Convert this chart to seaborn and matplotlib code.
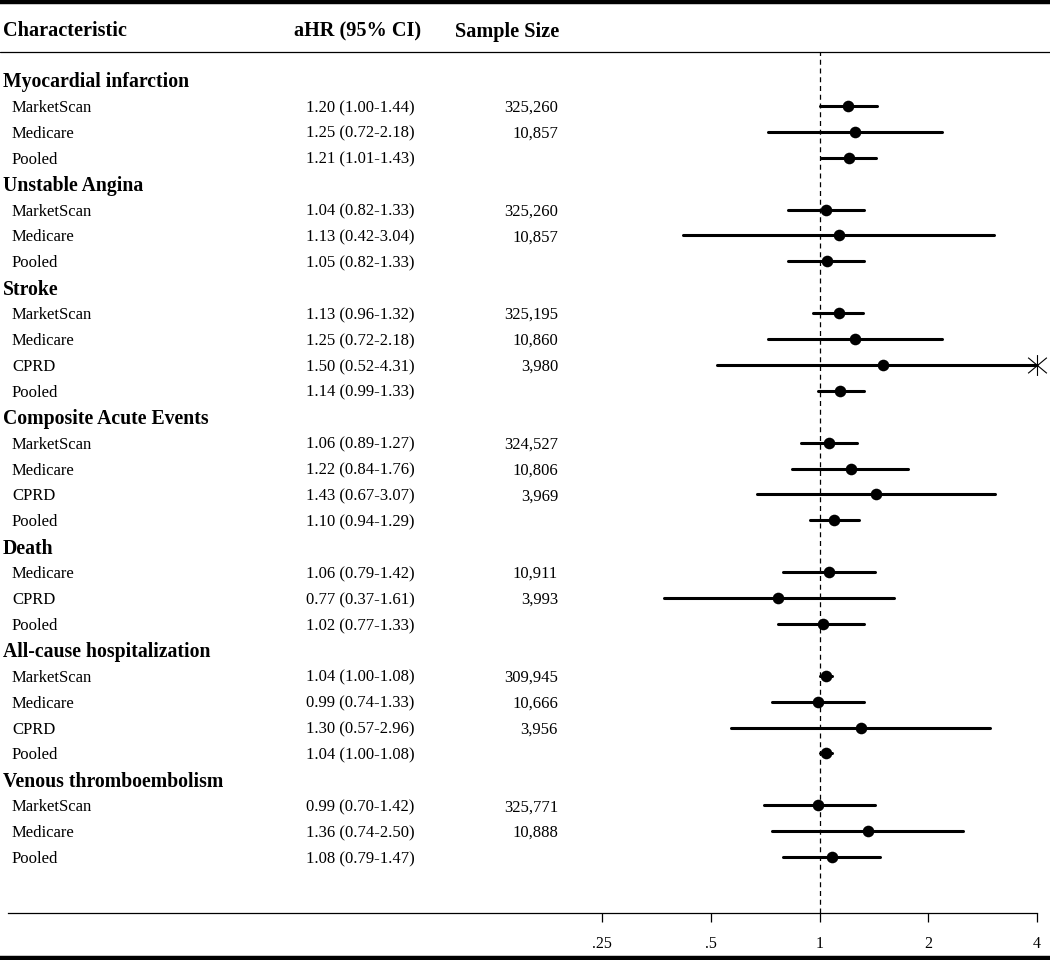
import numpy as np
import pandas as pd
import matplotlib.pyplot as plt
import matplotlib.transforms as mtransforms
from matplotlib.lines import Line2D
from matplotlib.path import Path
import seaborn as sns

# ------------------------------------------------------------------
# Data
# ------------------------------------------------------------------
groups = ["Myocardial infarction", "Unstable Angina", "Stroke",
          "Composite Acute Events", "Death", "All-cause hospitalization",
          "Venous thromboembolism"]

row_group = [0, 0, 0,
             1, 1, 1,
             2, 2, 2, 2,
             3, 3, 3, 3,
             4, 4, 4,
             5, 5, 5, 5,
             6, 6, 6]
row_source = ["MarketScan", "Medicare", "Pooled",
              "MarketScan", "Medicare", "Pooled",
              "MarketScan", "Medicare", "CPRD", "Pooled",
              "MarketScan", "Medicare", "CPRD", "Pooled",
              "Medicare", "CPRD", "Pooled",
              "MarketScan", "Medicare", "CPRD", "Pooled",
              "MarketScan", "Medicare", "Pooled"]
hr = [1.20, 1.25, 1.21,
      1.04, 1.13, 1.05,
      1.13, 1.25, 1.50, 1.14,
      1.06, 1.22, 1.43, 1.10,
      1.06, 0.77, 1.02,
      1.04, 0.99, 1.30, 1.04,
      0.99, 1.36, 1.08]
ci_low = [1.00, 0.72, 1.01,
          0.82, 0.42, 0.82,
          0.96, 0.72, 0.52, 0.99,
          0.89, 0.84, 0.67, 0.94,
          0.79, 0.37, 0.77,
          1.00, 0.74, 0.57, 1.00,
          0.70, 0.74, 0.79]
ci_high = [1.44, 2.18, 1.43,
           1.33, 3.04, 1.33,
           1.32, 2.18, 4.31, 1.33,
           1.27, 1.76, 3.07, 1.29,
           1.42, 1.61, 1.33,
           1.08, 1.33, 2.96, 1.08,
           1.42, 2.50, 1.47]
sample_size = ["325,260", "10,857", "",
               "325,260", "10,857", "",
               "325,195", "10,860", "3,980", "",
               "324,527", "10,806", "3,969", "",
               "10,911", "3,993", "",
               "309,945", "10,666", "3,956", "",
               "325,771", "10,888", ""]
xticks = [0.25, 0.5, 1, 2, 4]
xtick_labels = [".25", ".5", "1", "2", "4"]

# ------------------------------------------------------------------
# Build the row layout: a bold header row per group, then its sources
# ------------------------------------------------------------------
df = pd.DataFrame({"group": row_group, "source": row_source, "hr": hr,
                   "lo": ci_low, "hi": ci_high, "n": sample_size})
ypos, header_pos = [], []
r = 0
for g in range(len(groups)):
    header_pos.append(r)
    r += 1
    for _ in range(int((df["group"] == g).sum())):
        ypos.append(r)
        r += 1
df["y"] = ypos

X_MAX = 4
df["hi_plot"] = df["hi"].clip(upper=X_MAX)

# ------------------------------------------------------------------
# Style
# ------------------------------------------------------------------
sns.set_theme(style="white")
plt.rcParams["font.family"] = ["Liberation Serif", "DejaVu Serif"]
plt.rcParams["text.color"] = "black"
FS = 12          # row text
FS_GROUP = 14.2  # bold outcome labels
FS_HEAD = 14.6   # bold column headers

# Stata-style "clipped" marker: a bar with two crossing diagonals
clip_marker = Path([(0, -1), (0, 1), (-0.9, -0.75), (0.9, 0.75), (-0.9, 0.75), (0.9, -0.75)],
                   [Path.MOVETO, Path.LINETO, Path.MOVETO, Path.LINETO, Path.MOVETO, Path.LINETO])

W, H = 1050, 960
fig = plt.figure(figsize=(W / 100, H / 100), dpi=100)

# pixel geometry of the plot strip
ax_left, ax_right, ax_top, ax_bot = 8, 1037, 52, 913
row0_px, row_step = 80, 25.9
ax = fig.add_axes([ax_left / W, 1 - ax_bot / H,
                   (ax_right - ax_left) / W, (ax_bot - ax_top) / H])

ax.set_xscale("log", base=2)
px_per_doubling = (1037 - 602) / 4
left_exp = np.log2(X_MAX) - (ax_right - ax_left) / px_per_doubling
ax.set_xlim(2 ** left_exp, X_MAX)
ax.set_ylim((ax_bot - row0_px) / row_step, (ax_top - row0_px) / row_step)

# CI lines and point estimates
ax.hlines(df["y"], df["lo"], df["hi_plot"], color="black", lw=2.2,
          capstyle="round", zorder=2)
sns.scatterplot(data=df, x="hr", y="y", ax=ax, color="black", s=70,
                edgecolor="black", linewidth=0, zorder=3, legend=False)
clipped = df[df["hi"] > X_MAX]
ax.plot(clipped["hi_plot"], clipped["y"], linestyle="none", color="black",
        marker=clip_marker, markersize=15, markeredgewidth=0.8,
        markerfacecolor="none", clip_on=False, zorder=3)

# reference line at HR = 1
ax.axvline(1, color="black", lw=0.9, dashes=(4, 3), zorder=1)

# axes cosmetics
for side in ["top", "right", "left"]:
    ax.spines[side].set_visible(False)
ax.spines["bottom"].set_linewidth(0.9)
ax.spines["bottom"].set_color("black")
ax.set_yticks([])
ax.set_xticks(xticks)
ax.set_xticklabels(xtick_labels, fontsize=11.5)
ax.minorticks_off()
ax.tick_params(axis="x", direction="out", length=6.5, width=0.9, pad=10,
               colors="black", bottom=True)
ax.set_xlabel("")
ax.set_ylabel("")
ax.patch.set_alpha(0)

# ------------------------------------------------------------------
# Table text
# ------------------------------------------------------------------
trans = mtransforms.blended_transform_factory(fig.transFigure, ax.transData)
header_y = (29 - row0_px) / row_step
ax.text(3 / W, header_y, "Characteristic", transform=trans, fontsize=FS_HEAD,
        fontweight="bold", va="center_baseline", ha="left")
ax.text(294 / W, header_y, "aHR (95% CI)", transform=trans, fontsize=FS_HEAD,
        fontweight="bold", va="center_baseline", ha="left")
ax.text(455 / W, header_y, "Sample Size", transform=trans, fontsize=FS_HEAD,
        fontweight="bold", va="center_baseline", ha="left")

for g, yp in zip(groups, header_pos):
    ax.text(3 / W, yp, g, transform=trans, fontsize=FS_GROUP,
            fontweight="bold", va="center_baseline", ha="left")

for _, row in df.iterrows():
    ax.text(12 / W, row["y"], row["source"], transform=trans, fontsize=FS,
            va="center_baseline", ha="left")
    ax.text(306 / W, row["y"], f"{row['hr']:.2f} ({row['lo']:.2f}-{row['hi']:.2f})",
            transform=trans, fontsize=FS, va="center_baseline", ha="left")
    ax.text(558 / W, row["y"], row["n"], transform=trans, fontsize=FS,
            va="center_baseline", ha="right")

# ------------------------------------------------------------------
# Rules: thick top / bottom borders, thin rule under the header
# ------------------------------------------------------------------
fig.add_artist(Line2D([0, 1], [1 - 2 / H, 1 - 2 / H], color="black", lw=3.2,
                      transform=fig.transFigure))
fig.add_artist(Line2D([0, 1], [1 - 52 / H, 1 - 52 / H], color="black", lw=0.9,
                      transform=fig.transFigure))
fig.add_artist(Line2D([0, 1], [1 - 957.5 / H, 1 - 957.5 / H], color="black", lw=3.2,
                      transform=fig.transFigure))

fig.savefig("out.png", dpi=100, facecolor="white")
